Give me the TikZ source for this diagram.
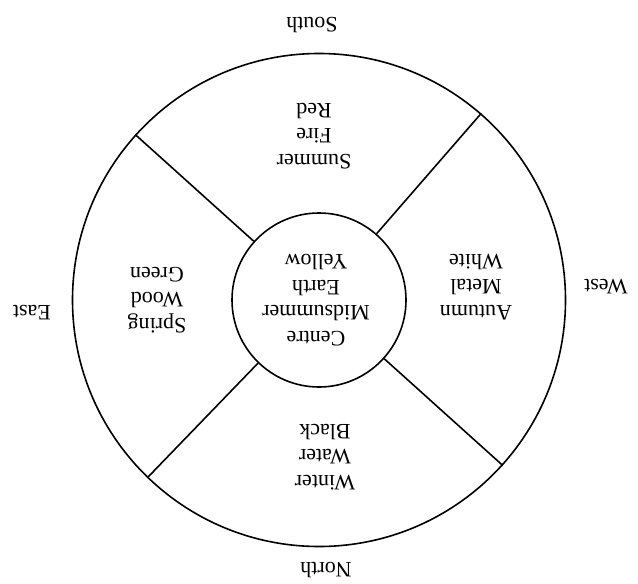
\documentclass[tikz,border=0pt]{standalone}
\usepackage{fontspec}
\setmainfont{Liberation Serif}
\begin{document}
\begin{tikzpicture}[x=1pt,y=-1pt,
  ring/.style={circle,draw,line width=1.6pt,inner sep=0pt},
  spoke/.style={line width=1.6pt},
  lbl/.style={rotate=180,align=center,inner sep=0pt,
    font=\fontsize{22}{25.5}\selectfont}]
\useasboundingbox[fill=white] (0,0) rectangle (638,584);
\node[ring,minimum size=493pt] (outer) at (319,300) {};
\node[ring,minimum size=174pt] (inner) at (319,300) {};
\draw[spoke] (inner.138) -- (outer.138);
\draw[spoke] (inner.49) -- (outer.49);
\draw[spoke] (inner.226.5) -- (outer.226.5);
\draw[spoke] (inner.318) -- (outer.318);
\node[lbl] (centre) at (316,300) {Centre\\Midsummer\\Earth\\Yellow};
\node[lbl] (summer) at (314,136) {Summer\\Fire\\Red};
\node[lbl] (autumn) at (476,287) {Autumn\\Metal\\White};
\node[lbl] (spring) at (157,300) {Spring\\Wood\\Green};
\node[lbl] (winter) at (325,457) {Winter\\Water\\Black};
\node[lbl] (south) at (312,25) {South};
\node[lbl] (north) at (326,570) {North};
\node[lbl] (east) at (32,313) {East};
\node[lbl] (west) at (606,287) {West};
\end{tikzpicture}
\end{document}
